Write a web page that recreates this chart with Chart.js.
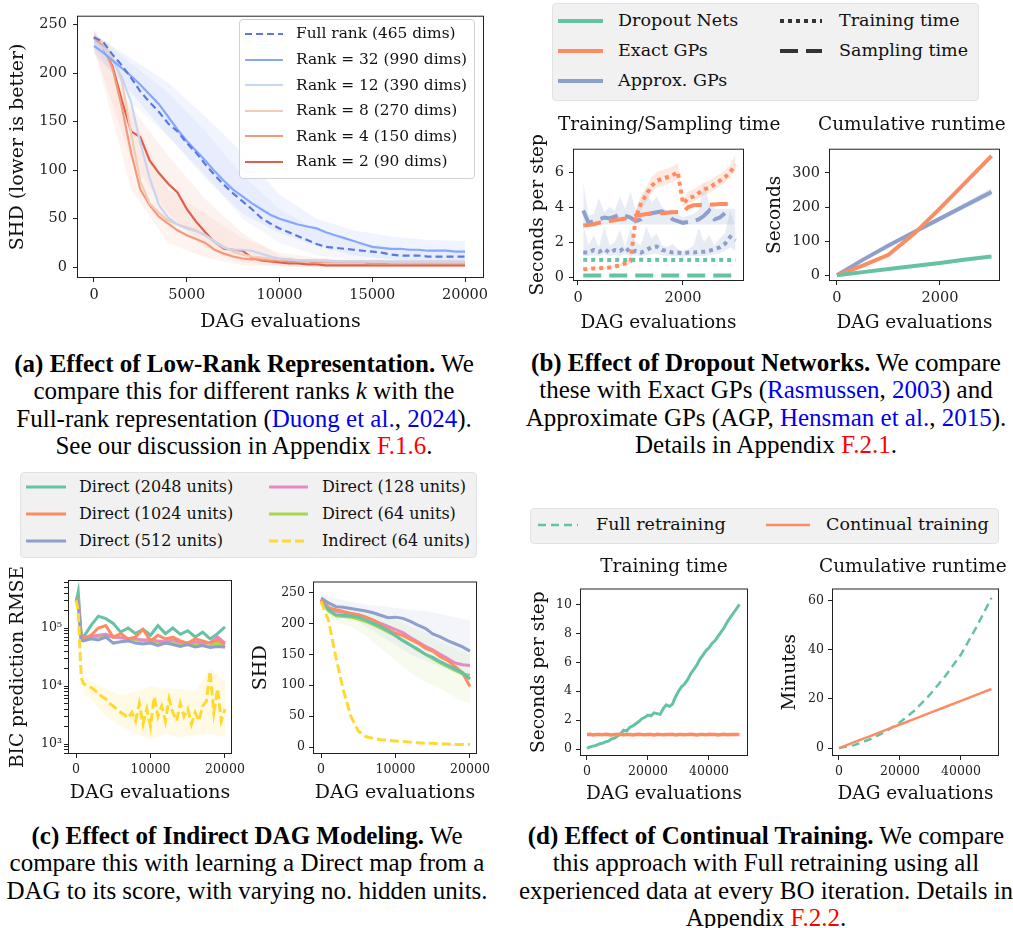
<!DOCTYPE html>
<html>
<head>
<meta charset="utf-8">
<script src="https://cdn.jsdelivr.net/npm/chart.js@4.4.1/dist/chart.umd.min.js"></script>
<style>
  html, body { margin: 0; padding: 0; background: #fff; }
  #stage { position: relative; width: 1013px; height: 928px; overflow: hidden; font-family: 'DejaVu Serif', serif; color: #111; }
  #stage canvas { position: absolute; }
  .lg { position: absolute; border-radius: 4px; box-sizing: border-box; }
  .lgt { position: absolute; white-space: nowrap; }
  .sub { position: absolute; white-space: nowrap; font-size: 18.5px; line-height: 24px; }
  .cap { position: absolute; font-family: 'Liberation Serif', 'Times New Roman', serif; font-size: 25px; line-height: 27.3px; text-align: center; white-space: nowrap; color: #000; }
  .cap .bl { color: #0000ee; }
  .cap .rd { color: #ff0000; }
  svg.smp { position: absolute; overflow: visible; }
</style>
</head>
<body>
<div id="stage"></div>
<script>
// ---------- (a) low-rank representation ----------
const aEvals = [0, 500, 1000, 1500, 2000, 2500, 3000, 3500, 4000, 4500, 5000, 5500, 6000, 6500, 7000, 7500, 8000, 8500, 9000, 9500,
  10000, 10500, 11000, 11500, 12000, 12500, 13000, 13500, 14000, 14500, 15000, 15500, 16000, 16500, 17000, 17500, 18000, 18500, 19000, 19500, 20000];
const aFullRank = [237, 232, 219, 208, 195, 181, 170, 160, 148, 140, 128, 118, 106, 95, 85, 76, 68, 60, 51, 45, 40, 36, 32, 28, 24, 21, 20, 19, 18, 17, 16, 15, 13, 12, 12, 12, 11, 11, 11, 11, 11];
const aRank32 = [228, 221, 213, 205, 197, 188, 178, 168, 155, 142, 130, 120, 110, 99, 89, 80, 73, 66, 60, 54, 50, 47, 44, 42, 40, 36, 33, 30, 27, 24, 21, 20, 19, 19, 18, 18, 17, 17, 17, 16, 16];
const aRank12 = [233, 226, 213, 196, 170, 128, 92, 64, 51, 44, 40, 37, 33, 26, 20, 18, 18, 17, 14, 11, 9, 8, 7, 7, 7, 7, 6, 6, 6, 6, 6, 6, 6, 6, 6, 6, 6, 6, 6, 6, 6];
const aRank8 = [238, 231, 216, 192, 138, 88, 66, 56, 48, 44, 41, 38, 33, 27, 21, 16, 13, 11, 10, 9, 8, 8, 7, 7, 7, 6, 6, 6, 6, 6, 6, 6, 5, 5, 5, 5, 5, 5, 5, 5, 5];
const aRank4 = [236, 228, 205, 165, 118, 80, 64, 52, 45, 38, 33, 29, 25, 18, 14, 11, 9, 8, 8, 7, 7, 6, 6, 6, 5, 5, 5, 5, 5, 5, 4, 4, 4, 4, 4, 4, 4, 4, 4, 4, 4];
const aRank2 = [237, 226, 207, 172, 140, 134, 110, 97, 86, 77, 60, 47, 36, 26, 19, 18, 17, 10, 7, 6, 5, 4, 4, 3, 3, 2, 2, 2, 2, 2, 2, 2, 2, 2, 2, 2, 2, 2, 2, 2, 2];
const aBandX = [0, 2000, 4000, 6000, 8000, 10000, 12000, 14000, 16000, 18000, 20000];
const aRank32Low = [220, 180, 135, 92, 55, 35, 22, 12, 8, 6, 5];
const aRank32High = [240, 215, 190, 155, 118, 75, 50, 38, 32, 28, 27];
const aFullLow = [228, 170, 135, 95, 50, 25, 12, 8, 6, 5, 5];
const aFullHigh = [242, 210, 180, 140, 95, 60, 38, 26, 20, 18, 18];
const aRank2Low = [225, 110, 55, 20, 5, 1, 0, 0, 0, 0, 0];
const aRank2High = [245, 165, 115, 70, 35, 12, 6, 4, 3, 3, 3];
const aRank4Low = [225, 80, 25, 10, 2, 1, 0, 0, 0, 0, 0];
const aRank4High = [245, 160, 80, 55, 30, 15, 10, 8, 7, 7, 7];
const aXTicks = [0, 5000, 10000, 15000, 20000];
const aYTicks = [0, 50, 100, 150, 200, 250];

// ---------- (b) dropout networks ----------
const bEvals = [100, 200, 300, 400, 500, 600, 700, 800, 900, 1000, 1100, 1200, 1300, 1400, 1500, 1600, 1700, 1800, 1900, 2000,
  2100, 2200, 2300, 2400, 2500, 2600, 2700, 2800, 2900, 3000];
const bDropTrain = [1.0, 0.98, 0.99, 0.98, 0.99, 0.98, 0.98, 0.99, 0.98, 0.99, 0.98, 0.99, 0.98, 0.98, 0.99, 0.98, 0.99, 0.98, 0.98, 0.99, 0.98, 0.99, 0.98, 0.98, 0.99, 0.98, 0.99, 0.98, 0.98, 0.99];
const bDropSample = [0.1, 0.1, 0.1, 0.1, 0.1, 0.1, 0.1, 0.1, 0.1, 0.1, 0.1, 0.1, 0.1, 0.1, 0.1, 0.1, 0.1, 0.1, 0.1, 0.1, 0.1, 0.1, 0.1, 0.1, 0.1, 0.1, 0.1, 0.1, 0.1, 0.1];
const bExactTrain = [0.45, 0.47, 0.5, 0.5, 0.52, 0.55, 0.6, 0.68, 0.78, 0.9, 3.4, 4.2, 4.7, 5.2, 5.5, 5.6, 5.7, 5.8, 6.0, 4.2, 4.5, 4.6, 4.8, 5.0, 5.1, 5.3, 5.5, 5.7, 6.0, 6.4];
const bExactTrainLow = [0.4, 0.42, 0.45, 0.45, 0.47, 0.5, 0.55, 0.6, 0.7, 0.8, 3.0, 3.8, 4.3, 4.8, 5.1, 5.2, 5.3, 5.4, 5.6, 4.0, 4.2, 4.3, 4.5, 4.7, 4.8, 5.0, 5.2, 5.4, 5.7, 6.0];
const bExactTrainHigh = [0.5, 0.52, 0.55, 0.56, 0.58, 0.6, 0.66, 0.76, 0.86, 1.0, 3.8, 4.7, 5.1, 5.7, 6.0, 6.1, 6.2, 6.3, 6.5, 4.5, 4.9, 5.0, 5.2, 5.4, 5.5, 5.7, 5.9, 6.1, 6.4, 7.0];
const bExactSample = [2.95, 2.98, 3.02, 3.1, 3.15, 3.2, 3.25, 3.3, 3.35, 3.42, 3.5, 3.55, 3.6, 3.63, 3.65, 3.65, 3.68, 3.7, 3.72, 3.72, 4.0, 4.1, 4.12, 4.12, 4.15, 4.15, 4.17, 4.18, 4.2, 4.2];
const bApproxSample = [3.8, 3.1, 3.2, 3.3, 3.4, 3.35, 3.45, 3.6, 3.5, 3.4, 3.2, 3.3, 3.55, 3.65, 3.7, 3.75, 3.6, 3.3, 3.2, 3.1, 3.15, 3.2, 3.3, 3.5, 3.8, 3.3, 3.4, 3.65, null, null];
const bApproxSampleLow = [3.0, 3.0, 3.0, 3.0, 3.0, 3.0, 3.0, 3.0, 3.0, 3.0, 3.0, 3.0, 3.0, 3.0, 3.0, 3.0, 3.0, 3.0, 3.0, 3.0, 3.0, 3.0, 3.0, 3.0, 3.0, 3.0, 3.0, 3.0, 3.0, 3.0];
const bApproxSampleHigh = [5.4, 3.5, 3.6, 4.5, 3.7, 4.0, 3.8, 4.6, 3.9, 4.9, 3.8, 4.3, 5.0, 4.2, 4.6, 4.0, 3.8, 3.9, 3.6, 3.4, 3.5, 3.6, 3.8, 5.4, 4.2, 3.9, 3.9, 3.9, 3.9, 3.9];
const bApproxTrain = [1.4, 1.4, 1.55, 1.45, 1.6, 1.4, 1.55, 1.5, 1.7, 1.4, 1.5, 1.4, 1.55, 1.7, 1.75, 1.55, 1.5, 1.4, 1.4, 1.35, 1.4, 1.4, 1.45, 1.45, 1.5, 1.6, 1.7, 1.9, 2.3, 2.1];
const bApproxTrainLow = [1.2, 1.2, 1.25, 1.2, 1.3, 1.2, 1.25, 1.2, 1.3, 1.2, 1.25, 1.2, 1.25, 1.3, 1.35, 1.25, 1.2, 1.2, 1.2, 1.15, 1.2, 1.2, 1.2, 1.2, 1.25, 1.3, 1.35, 1.5, 1.7, 1.5];
const bApproxTrainHigh = [3.0, 1.8, 2.4, 1.7, 2.9, 1.8, 2.0, 2.7, 1.7, 2.8, 2.0, 1.8, 2.9, 2.2, 2.5, 1.8, 1.7, 1.9, 1.6, 1.5, 1.6, 1.8, 2.8, 2.0, 2.4, 1.8, 2.2, 2.5, 3.8, 2.8];
const bCumX = [0, 500, 1000, 1500, 2000, 2500, 3000];
const bDropCum = [0, 9, 18, 27, 36, 46, 55];
const bExactCum = [0, 28, 60, 122, 196, 273, 350];
const bApproxCum = [0, 45, 87, 127, 166, 205, 244];
const bApproxCumLow = [0, 43, 84, 122, 160, 197, 234];
const bApproxCumHigh = [0, 47, 90, 132, 172, 213, 256];
const bXTicks = [0, 2000];
const bYTicks1 = [0, 2, 4, 6];
const bYTicks2 = [0, 100, 200, 300];

// ---------- (c) indirect DAG modeling ----------
const cEvals = [0, 300, 700, 1000, 2000, 3000, 4000, 5000, 6000, 7000, 8000, 9000, 10000, 11000, 12000, 13000, 14000, 15000, 16000, 17000, 18000, 19000, 20000];
const cDirect2048 = [280000, 420000, 75000, 70000, 110000, 160000, 145000, 120000, 85000, 100000, 80000, 95000, 75000, 110000, 80000, 100000, 78000, 90000, 70000, 85000, 65000, 80000, 105000];
const cDirect1024 = [280000, 300000, 70000, 65000, 75000, 100000, 110000, 70000, 80000, 65000, 70000, 95000, 60000, 75000, 65000, 70000, 60000, 55000, 65000, 60000, 55000, 62000, 52000];
const cDirect512 = [270000, 280000, 62000, 60000, 65000, 62000, 70000, 55000, 58000, 60000, 55000, 53000, 55000, 50000, 55000, 52000, 48000, 52000, 47000, 50000, 46000, 48000, 47000];
const cDirect128 = [280000, 290000, 70000, 68000, 72000, 75000, 78000, 70000, 68000, 66000, 65000, 62000, 63000, 60000, 58000, 62000, 57000, 55000, 58000, 54000, 56000, 70000, 55000];
const cDirect64 = [280000, 290000, 66000, 65000, 68000, 70000, 72000, 70000, 68000, 66000, 63000, 60000, 58000, 57000, 55000, 54000, 53000, 52000, 52000, 50000, 49000, 55000, 46000];
const cIndEvals = [0, 300, 700, 1000, 1500, 2000, 2500, 3000, 3500, 4000, 4500, 5000, 5500, 6000, 6500, 7000, 7500, 8000, 8500, 9000, 9500,
  10000, 10500, 11000, 11500, 12000, 12500, 13000, 13500, 14000, 14500, 15000, 15500, 16000, 16500, 17000, 17500, 18000, 18500, 19000, 19500, 20000];
const cIndirect64 = [300000, 200000, 14000, 11000, 10000, 9500, 8500, 7500, 6500, 6000, 5000, 4500, 4000, 3500, 3200, 2800, 3500, 2500, 5000, 2200, 4000,
  2000, 6500, 3000, 4500, 2500, 6000, 3500, 2500, 5000, 3000, 4000, 2200, 3500, 2500, 4500, 5500, 18000, 3500, 9000, 2500, 4000];
const cIndBandX = [0, 1000, 2000, 4000, 6000, 8000, 10000, 12000, 14000, 16000, 18000, 20000];
const cIndLow = [250000, 7000, 6000, 3000, 2000, 1500, 1200, 1500, 1300, 1400, 1500, 1300];
const cIndHigh = [400000, 15000, 12000, 9000, 7000, 8000, 10000, 9000, 9000, 8000, 20000, 12000];
const cShdEvals = [0, 1000, 2000, 3000, 4000, 5000, 6000, 7000, 8000, 9000, 10000, 11000, 12000, 13000, 14000, 15000, 16000, 17000, 18000, 19000, 20000];
const cShd2048 = [235, 222, 214, 213, 212, 210, 205, 200, 195, 188, 180, 172, 165, 158, 150, 145, 138, 132, 126, 120, 110];
const cShd1024 = [238, 225, 222, 219, 216, 214, 210, 205, 198, 190, 184, 180, 174, 168, 160, 155, 146, 140, 130, 120, 98];
const cShd512 = [241, 233, 227, 226, 224, 222, 220, 217, 213, 209, 210, 208, 203, 197, 192, 183, 178, 172, 167, 162, 155];
const cShd128 = [238, 226, 220, 218, 216, 214, 210, 205, 200, 195, 190, 185, 177, 170, 163, 157, 150, 143, 136, 133, 132];
const cShd64 = [235, 220, 212, 211, 210, 207, 203, 198, 192, 186, 180, 172, 165, 157, 150, 143, 136, 130, 124, 118, 116];
const cShdInd = [235, 205, 145, 92, 50, 26, 17, 14, 12, 11, 10, 9, 8, 7, 6, 6, 5, 5, 4, 4, 4];
const cBandX = [0, 2000, 4000, 6000, 8000, 10000, 12000, 14000, 16000, 18000, 20000];
const cShd512Low = [235, 215, 210, 195, 180, 165, 150, 140, 130, 120, 115];
const cShd512High = [248, 240, 235, 230, 228, 225, 222, 220, 215, 210, 205];
const cShd2048Low = [228, 200, 195, 180, 160, 140, 120, 105, 95, 80, 70];
const cShd2048High = [245, 230, 225, 220, 215, 205, 195, 185, 170, 160, 150];
const cXTicks = [0, 10000, 20000];
const cYTicksLog = [1000, 10000, 100000];
const cYTicksShd = [0, 50, 100, 150, 200, 250];

// ---------- (d) continual training ----------
const dEvals = [0, 1000, 2000, 3000, 4000, 5000, 6000, 7000, 8000, 9000, 10000, 11000, 12000, 13000, 14000, 15000, 16000, 17000, 18000, 19000,
  20000, 21000, 22000, 23000, 24000, 25000, 26000, 27000, 28000, 29000, 30000, 31000, 32000, 33000, 34000, 35000, 36000, 37000, 38000, 39000,
  40000, 41000, 42000, 43000, 44000, 45000, 46000, 47000, 48000, 49000, 50000];
const dFullTrain = [0.05, 0.15, 0.2, 0.25, 0.35, 0.4, 0.5, 0.55, 0.7, 0.75, 0.9, 1.05, 1.3, 1.25, 1.5, 1.6, 1.75, 1.9, 2.1, 2.2,
  2.35, 2.3, 2.5, 2.45, 2.4, 2.8, 3.05, 2.95, 3.1, 3.6, 4.0, 4.3, 4.5, 4.8, 5.2, 5.5, 5.8, 6.2, 6.5, 6.8,
  7.0, 7.3, 7.5, 7.8, 8.1, 8.4, 8.8, 9.1, 9.4, 9.7, 10.0];
const dContTrain = [1.0, 1.02, 0.98, 1.01, 1.0, 0.99, 1.02, 1.0, 0.98, 1.01, 1.0, 1.02, 0.99, 1.0, 1.01, 0.98, 1.0, 1.02, 1.0, 0.99,
  1.01, 1.0, 0.98, 1.02, 1.0, 0.99, 1.01, 1.0, 1.02, 0.98, 1.0, 1.01, 0.99, 1.0, 1.02, 1.0, 0.98, 1.01, 1.0, 0.99,
  1.02, 1.0, 1.01, 0.98, 1.0, 1.02, 0.99, 1.0, 1.01, 1.0, 1.0];
const dCumX = [0, 5000, 10000, 15000, 20000, 25000, 30000, 35000, 40000, 45000, 50000];
const dFullCum = [0, 1.2, 3.5, 6.5, 10.5, 15.5, 22, 29.5, 38, 49, 61];
const dContCum = [0, 2.4, 4.8, 7.2, 9.6, 12, 14.4, 16.8, 19.2, 21.6, 24];
const dXTicks = [0, 20000, 40000];
const dYTicks1 = [0, 2, 4, 6, 8, 10];
const dYTicks2 = [0, 20, 40, 60];

// colours
const set2 = { green: '#66c2a5', orange: '#fc8d62', purple: '#8da0cb', pink: '#e78ac3', lime: '#a6d854', yellow: '#ffd92f' };
const cw = { full: '#5a78e4', r32: '#85a8fc', r12: '#c5d6f2', r8: '#f1ccb8', r4: '#f49a7b', r2: '#de604c' };

Chart.defaults.font.family = "'DejaVu Serif', serif";
Chart.defaults.color = '#222';

const stage = document.getElementById('stage');

const framePlugin = {
  id: 'frame',
  afterDraw(chart) {
    const a = chart.chartArea, ctx = chart.ctx;
    ctx.save();
    ctx.strokeStyle = '#222';
    ctx.lineWidth = 1;
    ctx.strokeRect(a.left + 0.5, a.top + 0.5, a.right - a.left - 1, a.bottom - a.top - 1);
    ctx.restore();
  }
};

function line(xs, ys, color, width, dash) {
  return {
    data: xs.map((x, i) => ({ x: x, y: ys[i] })),
    borderColor: color, borderWidth: width, borderDash: dash || [],
    pointRadius: 0, fill: false, tension: 0, order: 1, spanGaps: false
  };
}

function band(xs, lo, hi, color) {
  return [
    { data: xs.map((x, i) => ({ x: x, y: lo[i] })), borderWidth: 0, pointRadius: 0, fill: false, order: 5 },
    { data: xs.map((x, i) => ({ x: x, y: hi[i] })), borderWidth: 0, pointRadius: 0, fill: '-1', backgroundColor: color, order: 5 }
  ];
}

function axis(o) {
  return {
    type: o.type || 'linear', min: o.min, max: o.max,
    afterBuildTicks: s => { s.ticks = o.ticks.map(v => ({ value: v })); },
    afterFit: s => { if (s.isHorizontal()) s.height = o.size; else s.width = o.size; },
    ticks: { autoSkip: false, maxRotation: 0, font: { size: o.fs }, color: '#222', padding: o.pad, callback: o.fmt || (v => String(v)) },
    grid: { display: true, drawOnChartArea: false, drawTicks: true, tickLength: 4, tickColor: '#222', tickWidth: 1 },
    border: { display: false },
    title: { display: true, text: o.title, font: { size: o.tfs }, color: '#111', padding: o.tpad }
  };
}

function plot(box, datasets, xAxis, yAxis) {
  const cv = document.createElement('canvas');
  cv.width = box.axisW + (box.right - box.left) + box.padR;
  cv.height = box.padT + (box.bottom - box.top) + box.axisH;
  cv.style.left = (box.left - box.axisW) + 'px';
  cv.style.top = (box.top - box.padT) + 'px';
  stage.appendChild(cv);
  xAxis.size = box.axisH;
  yAxis.size = box.axisW;
  return new Chart(cv, {
    type: 'line',
    data: { datasets: datasets },
    options: {
      responsive: false, animation: false,
      layout: { padding: { top: box.padT, right: box.padR, left: 0, bottom: 0 } },
      plugins: { legend: { display: false }, tooltip: { enabled: false } },
      scales: { x: axis(xAxis), y: axis(yAxis) }
    },
    plugins: [framePlugin]
  });
}

// (a)
plot({ left: 77, right: 484, top: 11, bottom: 278, axisW: 77, axisH: 57, padT: 10, padR: 30 },
  [].concat(
    band(aBandX, aRank32Low, aRank32High, 'rgba(133,168,252,0.12)'),
    band(aBandX, aFullLow, aFullHigh, 'rgba(90,120,228,0.06)'),
    band(aBandX, aRank4Low, aRank4High, 'rgba(244,154,123,0.12)'),
    band(aBandX, aRank2Low, aRank2High, 'rgba(222,96,76,0.08)'),
    [line(aEvals, aFullRank, cw.full, 2.2, [7, 4]),
     line(aEvals, aRank32, cw.r32, 2.2),
     line(aEvals, aRank12, cw.r12, 2.2),
     line(aEvals, aRank8, cw.r8, 2.2),
     line(aEvals, aRank4, cw.r4, 2.2),
     line(aEvals, aRank2, cw.r2, 2.2)]),
  { min: -916, max: 21024, ticks: aXTicks, fs: 14.5, pad: 5, title: 'DAG evaluations', tfs: 19, tpad: { top: 0, bottom: 2 } },
  { min: -11.1, max: 259.1, ticks: aYTicks, fs: 14.5, pad: 6, title: 'SHD (lower is better)', tfs: 19, tpad: { top: 7, bottom: 0 } });

// (b) left
plot({ left: 573, right: 744, top: 145, bottom: 281, axisW: 48, axisH: 55, padT: 10, padR: 30 },
  [].concat(
    band(bEvals, bApproxSampleLow, bApproxSampleHigh, 'rgba(141,160,203,0.2)'),
    band(bEvals, bApproxTrainLow, bApproxTrainHigh, 'rgba(141,160,203,0.2)'),
    band(bEvals, bExactTrainLow, bExactTrainHigh, 'rgba(252,141,98,0.2)'),
    [line(bEvals, bDropTrain, set2.green, 4, [4, 4]),
     line(bEvals, bDropSample, set2.green, 4, [18, 8]),
     line(bEvals, bExactTrain, set2.orange, 4, [4, 4]),
     line(bEvals, bExactSample, set2.orange, 4, [18, 8]),
     line(bEvals, bApproxTrain, set2.purple, 4, [4, 4]),
     line(bEvals, bApproxSample, set2.purple, 4, [18, 8])]),
  { min: -95, max: 3162, ticks: bXTicks, fs: 14.5, pad: 5, title: 'DAG evaluations', tfs: 18.5, tpad: { top: 0, bottom: 2 } },
  { min: -0.22, max: 7.33, ticks: bYTicks1, fs: 14.5, pad: 5, title: 'Seconds per step', tfs: 18.5, tpad: { top: 2, bottom: 0 } });

// (b) right
plot({ left: 829, right: 1000, top: 145, bottom: 281, axisW: 67, axisH: 55, padT: 10, padR: 13 },
  [].concat(
    band(bCumX, bApproxCumLow, bApproxCumHigh, 'rgba(141,160,203,0.25)'),
    [line(bCumX, bDropCum, set2.green, 4),
     line(bCumX, bExactCum, set2.orange, 4),
     line(bCumX, bApproxCum, set2.purple, 4)]),
  { min: -155, max: 3165, ticks: bXTicks, fs: 14.5, pad: 5, title: 'DAG evaluations', tfs: 18.5, tpad: { top: 0, bottom: 2 } },
  { min: -17, max: 371, ticks: bYTicks2, fs: 14.5, pad: 5, title: 'Seconds', tfs: 18.5, tpad: { top: 2, bottom: 0 } });

// (c) left, log scale
const supers = { 3: '\u00b3', 4: '\u2074', 5: '\u2075' };
const cLogAllTicks = [];
[100, 1000, 10000, 100000].forEach(d => { for (let k = 1; k < 10; k++) cLogAllTicks.push(d * k); });
plot({ left: 68, right: 232, top: 580, bottom: 754, axisW: 68, axisH: 52, padT: 24, padR: 30 },
  [].concat(
    band(cIndBandX, cIndLow, cIndHigh, 'rgba(255,217,47,0.12)'),
    [line(cIndEvals, cIndirect64, set2.yellow, 3, [9, 4]),
     line(cEvals, cDirect512, set2.purple, 3),
     line(cEvals, cDirect1024, set2.orange, 3),
     line(cEvals, cDirect128, set2.pink, 3),
     line(cEvals, cDirect2048, set2.green, 3),
     line(cEvals, cDirect64, set2.lime, 3)]),
  { min: -1074, max: 20940, ticks: cXTicks, fs: 12.5, pad: 4, title: 'DAG evaluations', tfs: 19, tpad: { top: 0, bottom: 2 } },
  { type: 'logarithmic', min: 673, max: 673000, ticks: cLogAllTicks.filter(v => v >= 673 && v <= 673000), fs: 12.5, pad: 2,
    fmt: v => cYTicksLog.includes(v) ? '10' + supers[Math.round(Math.log10(v))] : '',
    title: 'BIC prediction RMSE', tfs: 18.5, tpad: { top: 7, bottom: 0 } });

// (c) right
plot({ left: 313, right: 477, top: 580, bottom: 754, axisW: 68, axisH: 52, padT: 10, padR: 30 },
  [].concat(
    band(cBandX, cShd512Low, cShd512High, 'rgba(141,160,203,0.1)'),
    band(cBandX, cShd2048Low, cShd2048High, 'rgba(166,216,84,0.1)'),
    [line(cShdEvals, cShdInd, set2.yellow, 3, [9, 4]),
     line(cShdEvals, cShd2048, set2.green, 3),
     line(cShdEvals, cShd1024, set2.orange, 3),
     line(cShdEvals, cShd512, set2.purple, 3),
     line(cShdEvals, cShd128, set2.pink, 3),
     line(cShdEvals, cShd64, set2.lime, 3)]),
  { min: -1074, max: 20940, ticks: cXTicks, fs: 12.5, pad: 4, title: 'DAG evaluations', tfs: 19, tpad: { top: 0, bottom: 2 } },
  { min: -11.2, max: 267.6, ticks: cYTicksShd, fs: 12.5, pad: 4, title: 'SHD', tfs: 19, tpad: { top: 5, bottom: 0 } });

// (d) left
plot({ left: 580, right: 748, top: 587, bottom: 756, axisW: 55, axisH: 51, padT: 10, padR: 30 },
  [line(dEvals, dContTrain, set2.orange, 3.5),
   line(dEvals, dFullTrain, set2.green, 3)],
  { min: -2295, max: 52787, ticks: dXTicks, fs: 12.5, pad: 4, title: 'DAG evaluations', tfs: 18.5, tpad: { top: 0, bottom: 2 } },
  { min: -0.48, max: 11.1, ticks: dYTicks1, fs: 12.5, pad: 4, title: 'Seconds per step', tfs: 18.5, tpad: { top: 3, bottom: 0 } });

// (d) right
plot({ left: 832, right: 999, top: 587, bottom: 756, axisW: 55, axisH: 51, padT: 10, padR: 14 },
  [line(dCumX, dContCum, set2.orange, 2.5),
   line(dCumX, dFullCum, set2.green, 2.5, [8, 5])],
  { min: -2295, max: 52459, ticks: dXTicks, fs: 12.5, pad: 4, title: 'DAG evaluations', tfs: 18.5, tpad: { top: 0, bottom: 2 } },
  { min: -3.2, max: 64.8, ticks: dYTicks2, fs: 12.5, pad: 4, title: 'Minutes', tfs: 18.5, tpad: { top: 2, bottom: 0 } });

// ---------- legends, titles and captions (html) ----------
function el(cls, css, html) {
  const d = document.createElement('div');
  d.className = cls;
  Object.assign(d.style, css);
  if (html !== undefined) d.innerHTML = html;
  stage.appendChild(d);
  return d;
}

function legendRow(x1, x2, xt, y, color, width, dash, label, fs) {
  const svgNS = 'http://www.w3.org/2000/svg';
  const s = document.createElementNS(svgNS, 'svg');
  s.setAttribute('class', 'smp');
  s.setAttribute('width', x2 - x1);
  s.setAttribute('height', 10);
  s.style.left = x1 + 'px';
  s.style.top = (y - 5) + 'px';
  const l = document.createElementNS(svgNS, 'line');
  l.setAttribute('x1', 0); l.setAttribute('x2', x2 - x1);
  l.setAttribute('y1', 5); l.setAttribute('y2', 5);
  l.setAttribute('stroke', color);
  l.setAttribute('stroke-width', width);
  if (dash) l.setAttribute('stroke-dasharray', dash.join(' '));
  s.appendChild(l);
  stage.appendChild(s);
  el('lgt', { left: xt + 'px', top: (y - fs * 0.62) + 'px', fontSize: fs + 'px', lineHeight: (fs * 1.24) + 'px' }, label);
}

// (a) legend
el('lg', { left: '239px', top: '19px', width: '236px', height: '160px', background: 'rgba(255,255,255,0.85)', border: '1px solid #d0d0d0' });
const aNames = ['Full rank (465 dims)', 'Rank = 32 (990 dims)', 'Rank = 12 (390 dims)', 'Rank = 8 (270 dims)', 'Rank = 4 (150 dims)', 'Rank = 2 (90 dims)'];
const aCols = [cw.full, cw.r32, cw.r12, cw.r8, cw.r4, cw.r2];
aNames.forEach((n, i) => legendRow(245, 283, 296, 34 + i * 25.6, aCols[i], 2.2, i === 0 ? [7, 4] : null, n, 15.4));

// (b) legend
el('lg', { left: '552px', top: '3px', width: '427px', height: '98px', background: '#f1f1f1', border: '1px solid #e2e2e2' });
legendRow(558, 603, 618, 21, set2.green, 4, null, 'Dropout Nets', 17.5);
legendRow(558, 603, 618, 51, set2.orange, 4, null, 'Exact GPs', 17.5);
legendRow(558, 603, 618, 81, set2.purple, 4, null, 'Approx. GPs', 17.5);
legendRow(780, 822, 839, 21, '#333', 4, [4, 4], 'Training time', 17.5);
legendRow(780, 822, 839, 51, '#333', 4, [18, 8], 'Sampling time', 17.5);

// (c) legend
el('lg', { left: '20px', top: '472px', width: '457px', height: '86px', background: '#f1f1f1', border: '1px solid #e2e2e2' });
legendRow(26, 66, 79, 487, set2.green, 3, null, 'Direct (2048 units)', 16);
legendRow(26, 66, 79, 514, set2.orange, 3, null, 'Direct (1024 units)', 16);
legendRow(26, 66, 79, 541, set2.purple, 3, null, 'Direct (512 units)', 16);
legendRow(269, 308, 322, 487, set2.pink, 3, null, 'Direct (128 units)', 16);
legendRow(269, 308, 322, 514, set2.lime, 3, null, 'Direct (64 units)', 16);
legendRow(269, 308, 322, 541, set2.yellow, 3, [9, 4], 'Indirect (64 units)', 16);

// (d) legend
el('lg', { left: '530px', top: '508px', width: '469px', height: '36px', background: '#f1f1f1', border: '1px solid #e2e2e2' });
legendRow(538, 578, 596, 525, set2.green, 2.5, [8, 5], 'Full retraining', 17.5);
legendRow(766, 810, 826, 525, set2.orange, 2.5, null, 'Continual training', 17.5);

// subplot titles
el('sub', { left: '558px', width: '200px', textAlign: 'center', top: '112px' }, 'Training/Sampling time');
el('sub', { left: '818px', top: '112px' }, 'Cumulative runtime');
el('sub', { left: '564px', width: '200px', textAlign: 'center', top: '554px' }, 'Training time');
el('sub', { left: '819px', top: '554px' }, 'Cumulative runtime');

// captions
el('cap', { left: '-6px', width: '500px', top: '350px' },
  '<b>(a) Effect of Low-Rank Representation.</b> We<br>compare this for different ranks <i>k</i> with the<br>' +
  'Full-rank representation (<span class="bl">Duong et al.</span>, <span class="bl">2024</span>).<br>' +
  'See our discussion in Appendix <span class="rd">F.1.6</span>.');
el('cap', { left: '516px', width: '500px', top: '349px' },
  '<b>(b) Effect of Dropout Networks.</b> We compare<br>these with Exact GPs (<span class="bl">Rasmussen</span>, <span class="bl">2003</span>) and<br>' +
  'Approximate GPs (AGP, <span class="bl">Hensman et al.</span>, <span class="bl">2015</span>).<br>' +
  'Details in Appendix <span class="rd">F.2.1</span>.');
el('cap', { left: '-3px', width: '500px', top: '822px' },
  '<b>(c) Effect of Indirect DAG Modeling.</b> We<br>compare this with learning a Direct map from a<br>' +
  'DAG to its score, with varying no. hidden units.');
el('cap', { left: '516px', width: '500px', top: '822px' },
  '<b>(d) Effect of Continual Training.</b> We compare<br>this approach with Full retraining using all<br>' +
  'experienced data at every BO iteration. Details in<br>Appendix <span class="rd">F.2.2</span>.');
</script>
</body>
</html>
